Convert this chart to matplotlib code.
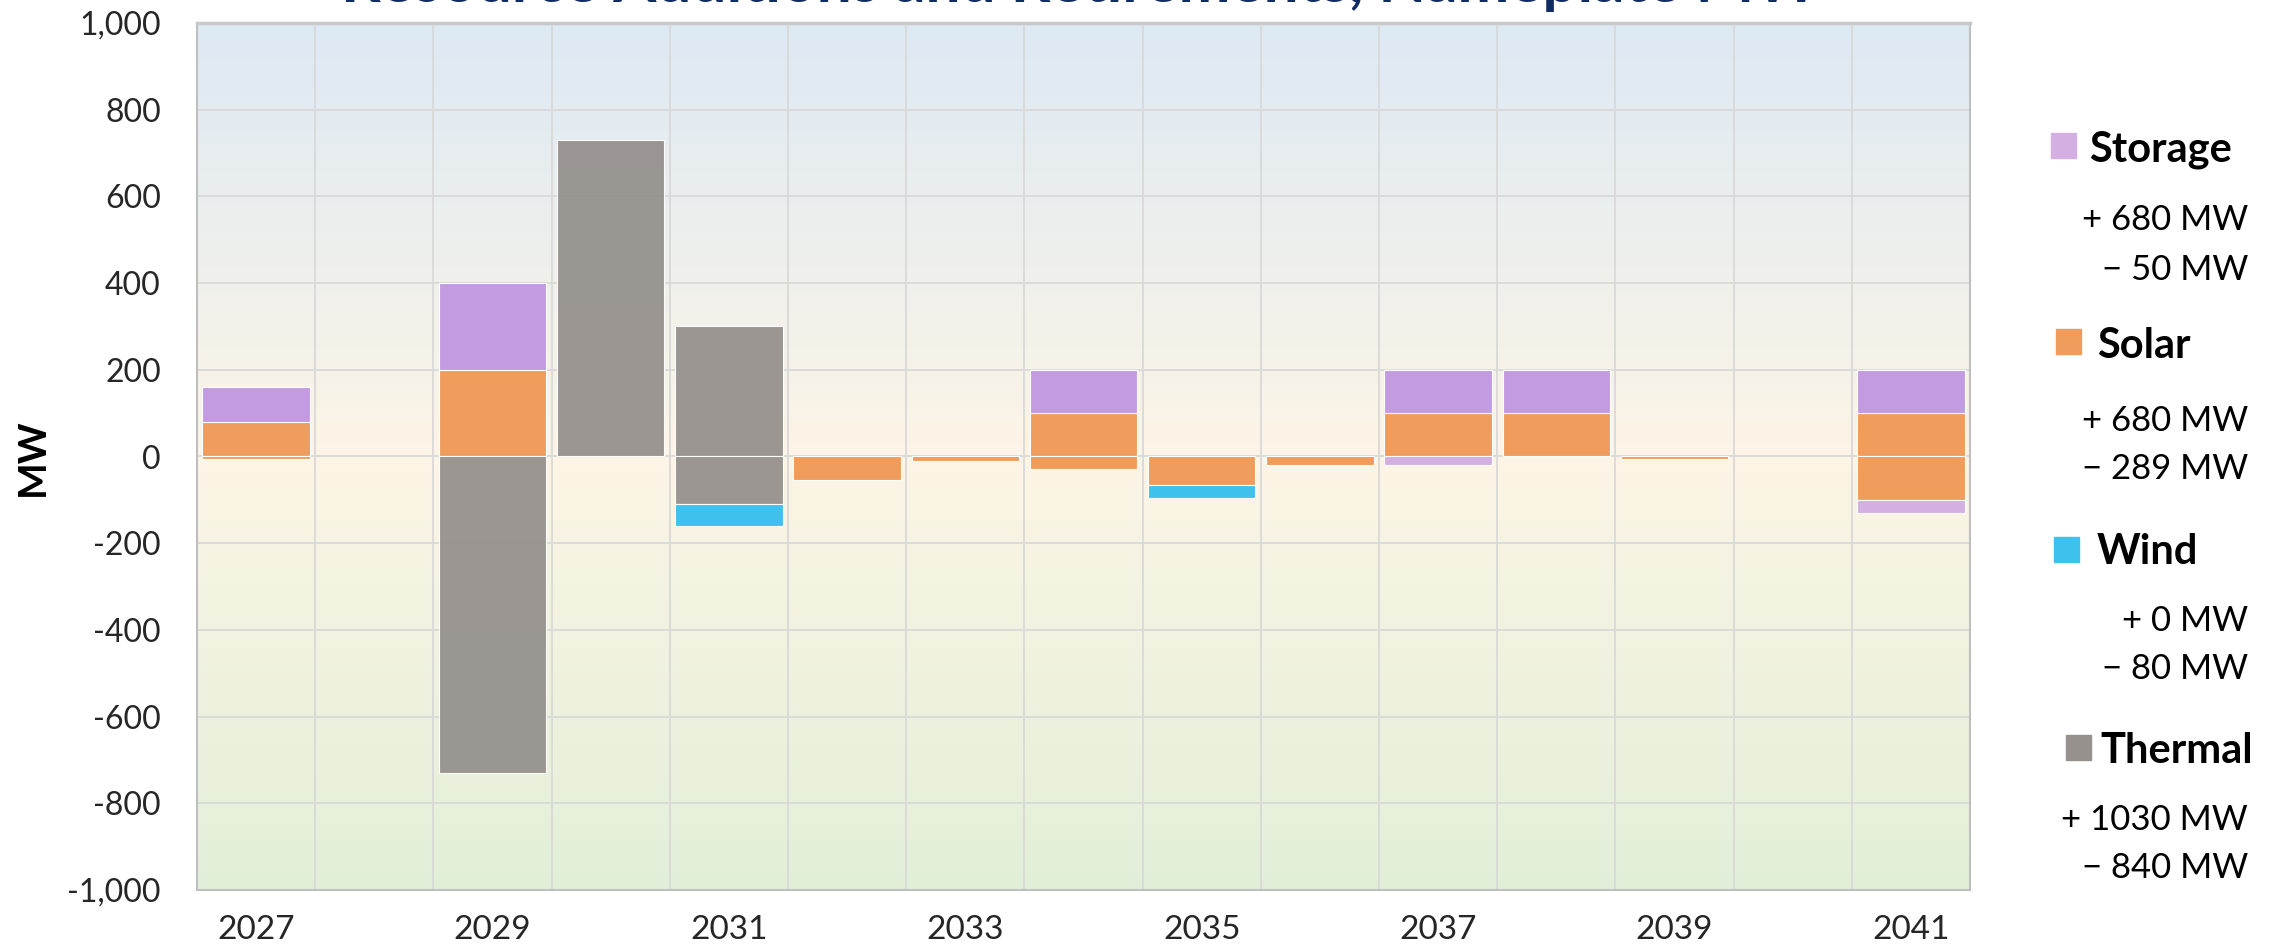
import matplotlib as mpl
mpl.use('Agg')
import matplotlib.pyplot as plt
from matplotlib.patches import Rectangle
from matplotlib.ticker import FuncFormatter
import numpy as np

plt.rcParams['font.family'] = ['Lato', 'DejaVu Sans']

# data (MW)
years = list(range(2027, 2042))
solar_add = [80, 0, 200, 0, 0, 0, 0, 100, 0, 0, 100, 100, 0, 0, 100]
solar_ret = [-5, 0, 0, 0, 0, -55, -10, -28, -65, -20, 0, 0, -6, 0, -100]
thermal_add = [0, 0, 0, 730, 300, 0, 0, 0, 0, 0, 0, 0, 0, 0, 0]
thermal_ret = [0, 0, -730, 0, -110, 0, 0, 0, 0, 0, 0, 0, 0, 0, 0]
wind_add = [0] * 15
wind_ret = [0, 0, 0, 0, -50, 0, 0, 0, -30, 0, 0, 0, 0, 0, 0]
storage_add = [80, 0, 200, 0, 0, 0, 0, 100, 0, 0, 100, 100, 0, 0, 100]
storage_ret = [0, 0, 0, 0, 0, 0, 0, 0, 0, 0, -20, 0, 0, 0, -30]

title = "Resource Additions and Retirements, Nameplate MW"

c_storage = '#C39BE0'
c_storage_ret = '#D3AFE2'
c_solar = '#EF9C5D'
c_wind = '#3EC1EC'
c_thermal = '#96918D'

W, H = 2275, 947
fig = plt.figure(figsize=(W / 100, H / 100), dpi=100)
ax = fig.add_axes([197 / W, 1 - 890 / H, (1970 - 197) / W, (890 - 23) / H])

x = np.arange(len(years))
n = len(years)

# background gradient
stops_y = [1000, 0, -1000]
stops_c = np.array([[221, 233, 244], [253, 245, 230], [226, 239, 216]]) / 255
yy = np.linspace(1000, -1000, 400)
grad = np.stack([np.interp(-yy, [-s for s in stops_y], stops_c[:, k]) for k in range(3)], axis=-1)
ax.imshow(grad[:, None, :], extent=[-0.5, n - 0.5, -1000, 1000], aspect='auto', zorder=0)

bw = 0.91
edge = (1, 1, 1, 0.45)
pos_b = np.zeros(n)
neg_b = np.zeros(n)
for add, ret, col, rcol, a in [(solar_add, solar_ret, c_solar, c_solar, 1.0),
                               (thermal_add, thermal_ret, c_thermal, c_thermal, 0.95),
                               (wind_add, wind_ret, c_wind, c_wind, 1.0),
                               (storage_add, storage_ret, c_storage, c_storage_ret, 1.0)]:
    add = np.array(add, float)
    ret = np.array(ret, float)
    m = add != 0
    ax.bar(x[m], add[m], bw, bottom=pos_b[m], color=col, alpha=a, edgecolor=edge, linewidth=0.8, zorder=3)
    pos_b += add
    m = ret != 0
    ax.bar(x[m], ret[m], bw, bottom=neg_b[m], color=rcol, alpha=a, edgecolor=edge, linewidth=0.8, zorder=3)
    neg_b += ret

ax.set_xlim(-0.5, n - 0.5)
ax.set_ylim(-1000, 1000)
ax.set_yticks(np.arange(-1000, 1001, 200))
ax.yaxis.set_major_formatter(FuncFormatter(lambda v, p: f"{v:,.0f}"))
ax.set_xticks(x[::2])
ax.set_xticklabels([str(y) for y in years[::2]])
ax.set_xticks(np.arange(-0.5, n, 1), minor=True)
ax.tick_params(axis='y', length=0, pad=26, labelsize=23, labelcolor='#262626')
ax.tick_params(axis='x', which='both', length=0, pad=18, labelsize=24, labelcolor='#262626')
ax.grid(axis='y', which='major', color='#D9D9D9', linewidth=1.3, zorder=1)
ax.grid(axis='x', which='minor', color='#D9D9D9', linewidth=1.3, zorder=1)
ax.grid(axis='x', which='major', visible=False)
ax.set_axisbelow(True)
for s in ax.spines.values():
    s.set_color('#BFBFBF')
    s.set_linewidth(1.5)
ax.spines['top'].set_linewidth(2.5)
ax.spines['top'].set_color('#C8C8C8')

fig.text(32 / W, 1 - 457 / H, 'MW', rotation=90, ha='center', va='center',
         fontsize=28, fontweight='bold', color='black')

# title, mostly clipped at top edge (as in the source image)
t = fig.text(1080 / W, 1 - 2 / H, title, ha='center', va='baseline', fontsize=36,
             fontweight='bold', color='#112B63')
fig.canvas.draw()
tw = t.get_window_extent().width
t.set_fontsize(36 * 1478 / tw)

# custom legend with totals
leg = [('Storage', storage_add, storage_ret, c_storage_ret, 2051, 2089, 146, 217, 267),
       ('Solar', solar_add, solar_ret, c_solar, 2056, 2097, 342, 418, 466),
       ('Wind', wind_add, wind_ret, c_wind, 2054, 2097, 549, 618, 666),
       ('Thermal', thermal_add, thermal_ret, c_thermal, 2066, 2100, 747, 817, 865)]
sq = 25
for name, add, ret, col, sx, tx, ty, y1, y2 in leg:
    fig.patches.append(Rectangle((sx / W, 1 - (ty + sq / 2) / H), sq / W, sq / H,
                                 transform=fig.transFigure, color=col, figure=fig))
    fig.text(tx / W, 1 - ty / H, name, ha='left', va='center_baseline', fontsize=30,
             fontweight='bold', color='black')
    fig.text(2248 / W, 1 - y1 / H, f"+ {sum(add):.0f} MW", ha='right', va='center_baseline',
             fontsize=25, color='black')
    fig.text(2248 / W, 1 - y2 / H, f"\u2212 {-sum(ret):.0f} MW", ha='right', va='center_baseline',
             fontsize=25, color='black')

plt.savefig('out.png', dpi=100)
